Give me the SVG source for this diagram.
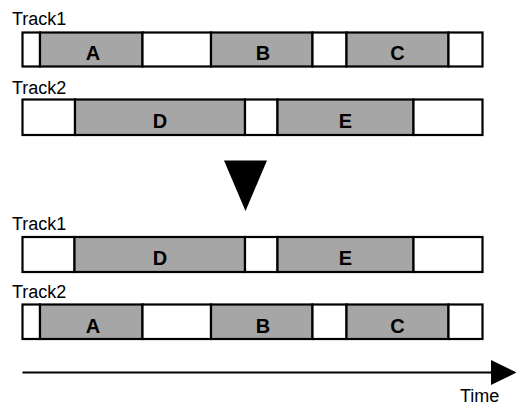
<svg xmlns="http://www.w3.org/2000/svg" width="516" height="405" viewBox="0 0 516 405">
<style>
.lbl{font-family:"Liberation Sans",Arial,sans-serif;font-size:18px;fill:#000}
.let{font-family:"Liberation Sans",Arial,sans-serif;font-size:20px;font-weight:bold;fill:#000;text-anchor:middle}
.w{fill:#fff;stroke:#000;stroke-width:2.2}
.g{fill:#a6a6a6;stroke:#000;stroke-width:2.2}
.axis{stroke:#000;stroke-width:2;fill:none}
</style>
<defs>
<marker id="ah" viewBox="0 0 25.5 25" refX="0" refY="12.5" markerWidth="25.5" markerHeight="25" markerUnits="userSpaceOnUse" orient="auto">
<path d="M0,0 L25.5,12.5 L0,25 z" fill="#000"/>
</marker>
</defs>
<rect width="516" height="405" fill="#fff"/>
<g id="before-track1">
<text class="lbl" x="12" y="25">Track1</text>
<rect class="w" x="22.5" y="32.5" width="17.5" height="34"/>
<rect class="g" x="40" y="32.5" width="102.5" height="34"/>
<rect class="w" x="142.5" y="32.5" width="68.5" height="34"/>
<rect class="g" x="211" y="32.5" width="101.5" height="34"/>
<rect class="w" x="312.5" y="32.5" width="34" height="34"/>
<rect class="g" x="346.5" y="32.5" width="102" height="34"/>
<rect class="w" x="448.5" y="32.5" width="34" height="34"/>
<text class="let" x="93" y="60">A</text>
<text class="let" x="263" y="60">B</text>
<text class="let" x="397.5" y="60">C</text>
</g>
<g id="before-track2">
<text class="lbl" x="12" y="94">Track2</text>
<rect class="w" x="22.5" y="99.5" width="52.5" height="35.5"/>
<rect class="g" x="75" y="99.5" width="170" height="35.5"/>
<rect class="w" x="245" y="99.5" width="32.5" height="35.5"/>
<rect class="g" x="277.5" y="99.5" width="136" height="35.5"/>
<rect class="w" x="413.5" y="99.5" width="69" height="35.5"/>
<text class="let" x="160" y="127.5">D</text>
<text class="let" x="345.5" y="127.5">E</text>
</g>
<g id="after-track1">
<text class="lbl" x="12" y="230">Track1</text>
<rect class="w" x="22.5" y="237" width="52" height="35"/>
<rect class="g" x="74.5" y="237" width="170.5" height="35"/>
<rect class="w" x="245" y="237" width="32.5" height="35"/>
<rect class="g" x="277.5" y="237" width="136" height="35"/>
<rect class="w" x="413.5" y="237" width="69" height="35"/>
<text class="let" x="160" y="265">D</text>
<text class="let" x="345.5" y="265">E</text>
</g>
<g id="after-track2">
<text class="lbl" x="12" y="298">Track2</text>
<rect class="w" x="22.5" y="304.5" width="17.5" height="34.5"/>
<rect class="g" x="40" y="304.5" width="102.5" height="34.5"/>
<rect class="w" x="142.5" y="304.5" width="68.5" height="34.5"/>
<rect class="g" x="211" y="304.5" width="101.5" height="34.5"/>
<rect class="w" x="312.5" y="304.5" width="34" height="34.5"/>
<rect class="g" x="346.5" y="304.5" width="102" height="34.5"/>
<rect class="w" x="448.5" y="304.5" width="34" height="34.5"/>
<text class="let" x="93" y="333">A</text>
<text class="let" x="263" y="333">B</text>
<text class="let" x="397.5" y="333">C</text>
</g>
<g id="connectors">
<polygon points="224,160.5 267,160.5 245.5,211" fill="#000"/>
<line class="axis" x1="22.5" y1="372.5" x2="491" y2="372.5" marker-end="url(#ah)"/>
</g>
<g id="time-label">
<text class="lbl" x="460" y="402">Time</text>
</g>
</svg>
